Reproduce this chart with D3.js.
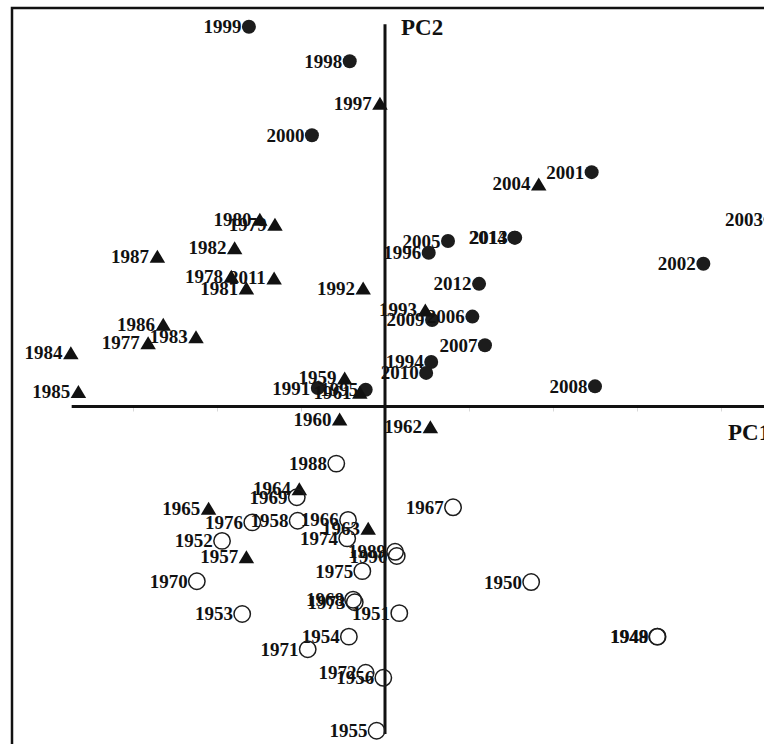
<!DOCTYPE html>
<html>
<head>
<meta charset="utf-8">
<script src="https://cdn.jsdelivr.net/npm/d3@7"></script>
<style>
  html, body { margin: 0; padding: 0; background: #fff; }
  svg { display: block; }
</style>
</head>
<body>
<svg id="chart" width="764" height="744"></svg>
<script>
// ---- Data (PCA scores) ----
// group: "filled" = filled circle, "tri" = filled triangle, "open" = open circle
const years = [
  1999,1998,2000,2001,2003,2005,2013,2014,1996,2012,2009,2006,2007,1994,2010,2008,2002,1991,1995,
  1997,2004,1980,1979,1982,1987,1978,2011,1981,1992,1993,1986,1983,1977,1984,1985,1959,1961,1960,1962,1964,1965,1963,1957,
  1988,1969,1976,1958,1966,1974,1952,1967,1989,1990,1975,1970,1950,1953,1973,1968,1951,1954,1971,1972,1956,1955,1949,1948
];
const pc1 = [
  -1.62,-0.42,-0.87,2.46,4.59,0.75,1.55,1.54,0.52,1.12,0.56,1.04,1.19,0.55,0.49,2.50,3.79,-0.80,-0.23,
  -0.06,1.83,-1.49,-1.31,-1.79,-2.71,-1.83,-1.32,-1.65,-0.26,0.48,-2.64,-2.25,-2.82,-3.74,-3.65,-0.48,-0.30,-0.54,0.54,-1.02,-2.10,-0.20,-1.65,
  -0.58,-1.05,-1.58,-1.04,-0.44,-0.45,-1.94,0.81,0.12,0.14,-0.27,-2.24,1.74,-1.70,-0.36,-0.38,0.17,-0.43,-0.92,-0.23,-0.02,-0.10,3.245,3.24
];
const pc2 = [
  4.52,4.11,3.23,2.79,2.23,1.97,2.01,2.01,1.83,1.46,1.03,1.07,0.73,0.53,0.40,0.24,1.70,0.22,0.20,
  3.61,2.65,2.23,2.17,1.89,1.79,1.55,1.53,1.41,1.41,1.15,0.98,0.83,0.76,0.64,0.18,0.34,0.17,-0.15,-0.24,-0.98,-1.21,-1.45,-1.79,
  -0.68,-1.08,-1.38,-1.36,-1.35,-1.57,-1.60,-1.20,-1.73,-1.78,-1.96,-2.08,-2.09,-2.47,-2.33,-2.30,-2.46,-2.74,-2.89,-3.17,-3.23,-3.86,-2.74,-2.74
];
const groups = [].concat(
  Array(19).fill("filled"),
  Array(24).fill("tri"),
  Array(24).fill("open")
);
const axisTitles = ["PC1", "PC2"];
const tickValues = [-3, -2, -1, 1, 2, 3, 4];

const data = years.map((y, i) => ({ year: y, x: pc1[i], y: pc2[i], g: groups[i] }));

// ---- Layout ----
const svg = d3.select("#chart");
const x = d3.scaleLinear().domain([-4, 4]).range([385 - 336, 385 + 336]);
const y = d3.scaleLinear().domain([-4, 4]).range([406.5 + 336, 406.5 - 336]);

const FONT = "'Liberation Serif', 'Times New Roman', Times, serif";

// frame (extends past the visible window on right and bottom)
svg.append("rect")
  .attr("x", 12).attr("y", 8)
  .attr("width", 900).attr("height", 900)
  .attr("fill", "none").attr("stroke", "#111").attr("stroke-width", 2.5);

// faint ticks along the PC1 axis
const ax = svg.append("g")
  .attr("transform", `translate(0,${y(0) + 1})`)
  .call(d3.axisBottom(x).tickValues(tickValues).tickSize(4).tickFormat(""));
ax.select(".domain").remove();
ax.selectAll("line").attr("stroke", "#d8d8d8").attr("stroke-width", 1);

// axes lines
svg.append("line")
  .attr("x1", x(0)).attr("x2", x(0))
  .attr("y1", y(4.55)).attr("y2", y(-3.9))
  .attr("stroke", "#111").attr("stroke-width", 3);
svg.append("line")
  .attr("x1", x(-3.73)).attr("x2", x(5.5))
  .attr("y1", y(0)).attr("y2", y(0))
  .attr("stroke", "#111").attr("stroke-width", 3);

// axis titles
svg.append("text")
  .attr("x", x(0) + 16).attr("y", 35)
  .attr("font-family", FONT).attr("font-weight", "bold").attr("font-size", 23)
  .attr("fill", "#111").text(axisTitles[1]);
svg.append("text")
  .attr("x", 728).attr("y", y(0) + 33)
  .attr("font-family", FONT).attr("font-weight", "bold").attr("font-size", 23)
  .attr("fill", "#111").text(axisTitles[0]);

// markers
const R_FILLED = 7, R_OPEN = 8.2, TRI_W = 15.5, TRI_H = 13;
const triPath = `M0,${-TRI_H/2}L${TRI_W/2},${TRI_H/2}L${-TRI_W/2},${TRI_H/2}Z`;

const pts = svg.append("g").selectAll("g.pt")
  .data(data).join("g")
  .attr("class", "pt")
  .attr("transform", d => `translate(${x(d.x)},${y(d.y)})`);

pts.append("text")
  .attr("x", d => d.g === "tri" ? -TRI_W/2 - 0.5 : (d.g === "open" ? -R_OPEN - 1 : -R_FILLED - 0.5))
  .attr("y", 6.5)
  .attr("text-anchor", "end")
  .attr("font-family", FONT).attr("font-weight", "bold").attr("font-size", 19)
  .attr("fill", "#111")
  .text(d => d.year);

pts.filter(d => d.g === "filled").append("circle")
  .attr("r", R_FILLED).attr("fill", "#1c1c1c");
pts.filter(d => d.g === "open").append("circle")
  .attr("r", R_OPEN).attr("fill", "none").attr("stroke", "#1c1c1c").attr("stroke-width", 1.5);
pts.filter(d => d.g === "tri").append("path")
  .attr("d", triPath).attr("fill", "#111");
</script>
</body>
</html>
